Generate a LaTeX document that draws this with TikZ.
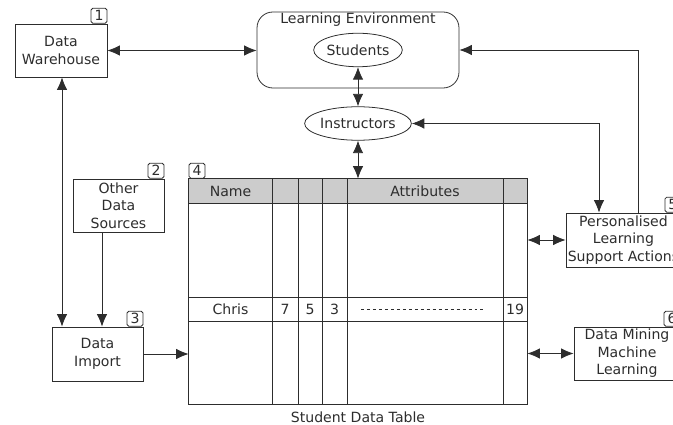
\documentclass[tikz,border=0pt]{standalone}
\usepackage{fontspec}
\setmainfont{DejaVu Sans}
\usepackage{tikz}
\usetikzlibrary{arrows.meta, positioning, shapes.geometric, calc}
\definecolor{linegray}{RGB}{45,45,45}
\definecolor{headgray}{RGB}{204,204,204}

\begin{document}
\begin{tikzpicture}[
    x=0.02cm, y=-0.02cm,
    font=\fontsize{8}{10}\selectfont,
    color=linegray, line width=0.45pt,
    box/.style={rectangle, draw, align=center, inner sep=1pt, minimum width=1.84cm, minimum height=1.06cm},
    oval/.style={ellipse, draw, inner sep=0pt, minimum width=1.76cm, minimum height=0.67cm},
    tag/.style={rectangle, draw, rounded corners=1pt, inner sep=0pt, minimum width=0.32cm, minimum height=0.3cm, anchor=south east},
    arrow/.style={-{Latex[length=2.5mm, width=2.1mm]}},
    both/.style={{Latex[length=2.5mm, width=2.1mm]}-{Latex[length=2.5mm, width=2.1mm]}}
]
\clip (0,0) rectangle (673,425);

\node[box] (wh) at (61,50.5) {Data\\Warehouse};
\node[tag] (whtag) at (wh.north east) {1};
\node[box, minimum width=1.82cm] (other) at (118.5,205.5) {Other\\Data\\Sources};
\node[tag] (othertag) at (other.north east) {2};
\node[box, minimum width=1.82cm, minimum height=1.08cm] (imp) at (97.5,354) {Data\\Import};
\node[tag] (imptag) at (imp.north east) {3};

\node[rectangle, draw, rounded corners=9pt, minimum width=4.04cm, minimum height=1.52cm] (le) at (358,50) {};
\node (letitle) at (358,20) {Learning Environment};
\node[oval] (stud) at (358,50) {Students};
\node[oval] (instr) at (358,123.5) {Instructors};

\node[rectangle, minimum width=6.76cm, minimum height=4.5cm, inner sep=0pt] (table) at (358,291.5) {};
\fill[headgray] (189,179) rectangle (527,203);
\draw (table.north west) rectangle (table.south east);
\foreach \y in {203,297,321}
    \draw (189,\y) -- (527,\y);
\foreach \x in {272,298,322,347,503}
    \draw (\x,179) -- (\x,404);
\node[tag, anchor=south west] (tabletag) at (table.north west) {4};
\node (hname) at (230.5,191) {Name};
\node (hattr) at (425,191) {Attributes};
\node (chris) at (230.5,309) {Chris};
\node (va) at (285,309) {7};
\node (vb) at (310,309) {5};
\node (vc) at (334.5,309) {3};
\node (vlast) at (515,309) {19};
\draw[dashed, dash pattern=on 1.7pt off 1.7pt, line width=0.4pt] (361,309) -- (486,309);
\node (caption) at (358,417) {Student Data Table};

\node[box, minimum width=2.22cm, minimum height=1.08cm] (act) at (623.5,240) {Personalised\\Learning\\Support Actions};
\node[tag] (acttag) at (act.north east) {5};
\node[box, minimum width=2.12cm] (mine) at (627,353.5) {Data Mining\\Machine\\Learning};
\node[tag] (minetag) at (mine.north east) {6};

\draw[both] (wh.east) -- (le.west |- wh.east);
\draw[both] (stud.south) -- (instr.north);
\draw[both] (instr.south) -- (table.north);
\draw[both] (wh.south -| 62,0) -- (imp.north -| 62,0);
\draw[arrow] (other.south -| 102,0) -- (imp.north -| 102,0);
\draw[arrow] (imp.east) -- (table.west |- imp.east);
\draw[both] (table.east |- act.west) -- (act.west);
\draw[both] (table.east |- mine.west) -- (mine.west);
\draw[both] (instr.east) -| ([xshift=-0.49cm]act.north);
\draw[arrow] ([xshift=0.29cm]act.north) |- (le.east);
\end{tikzpicture}
\end{document}
